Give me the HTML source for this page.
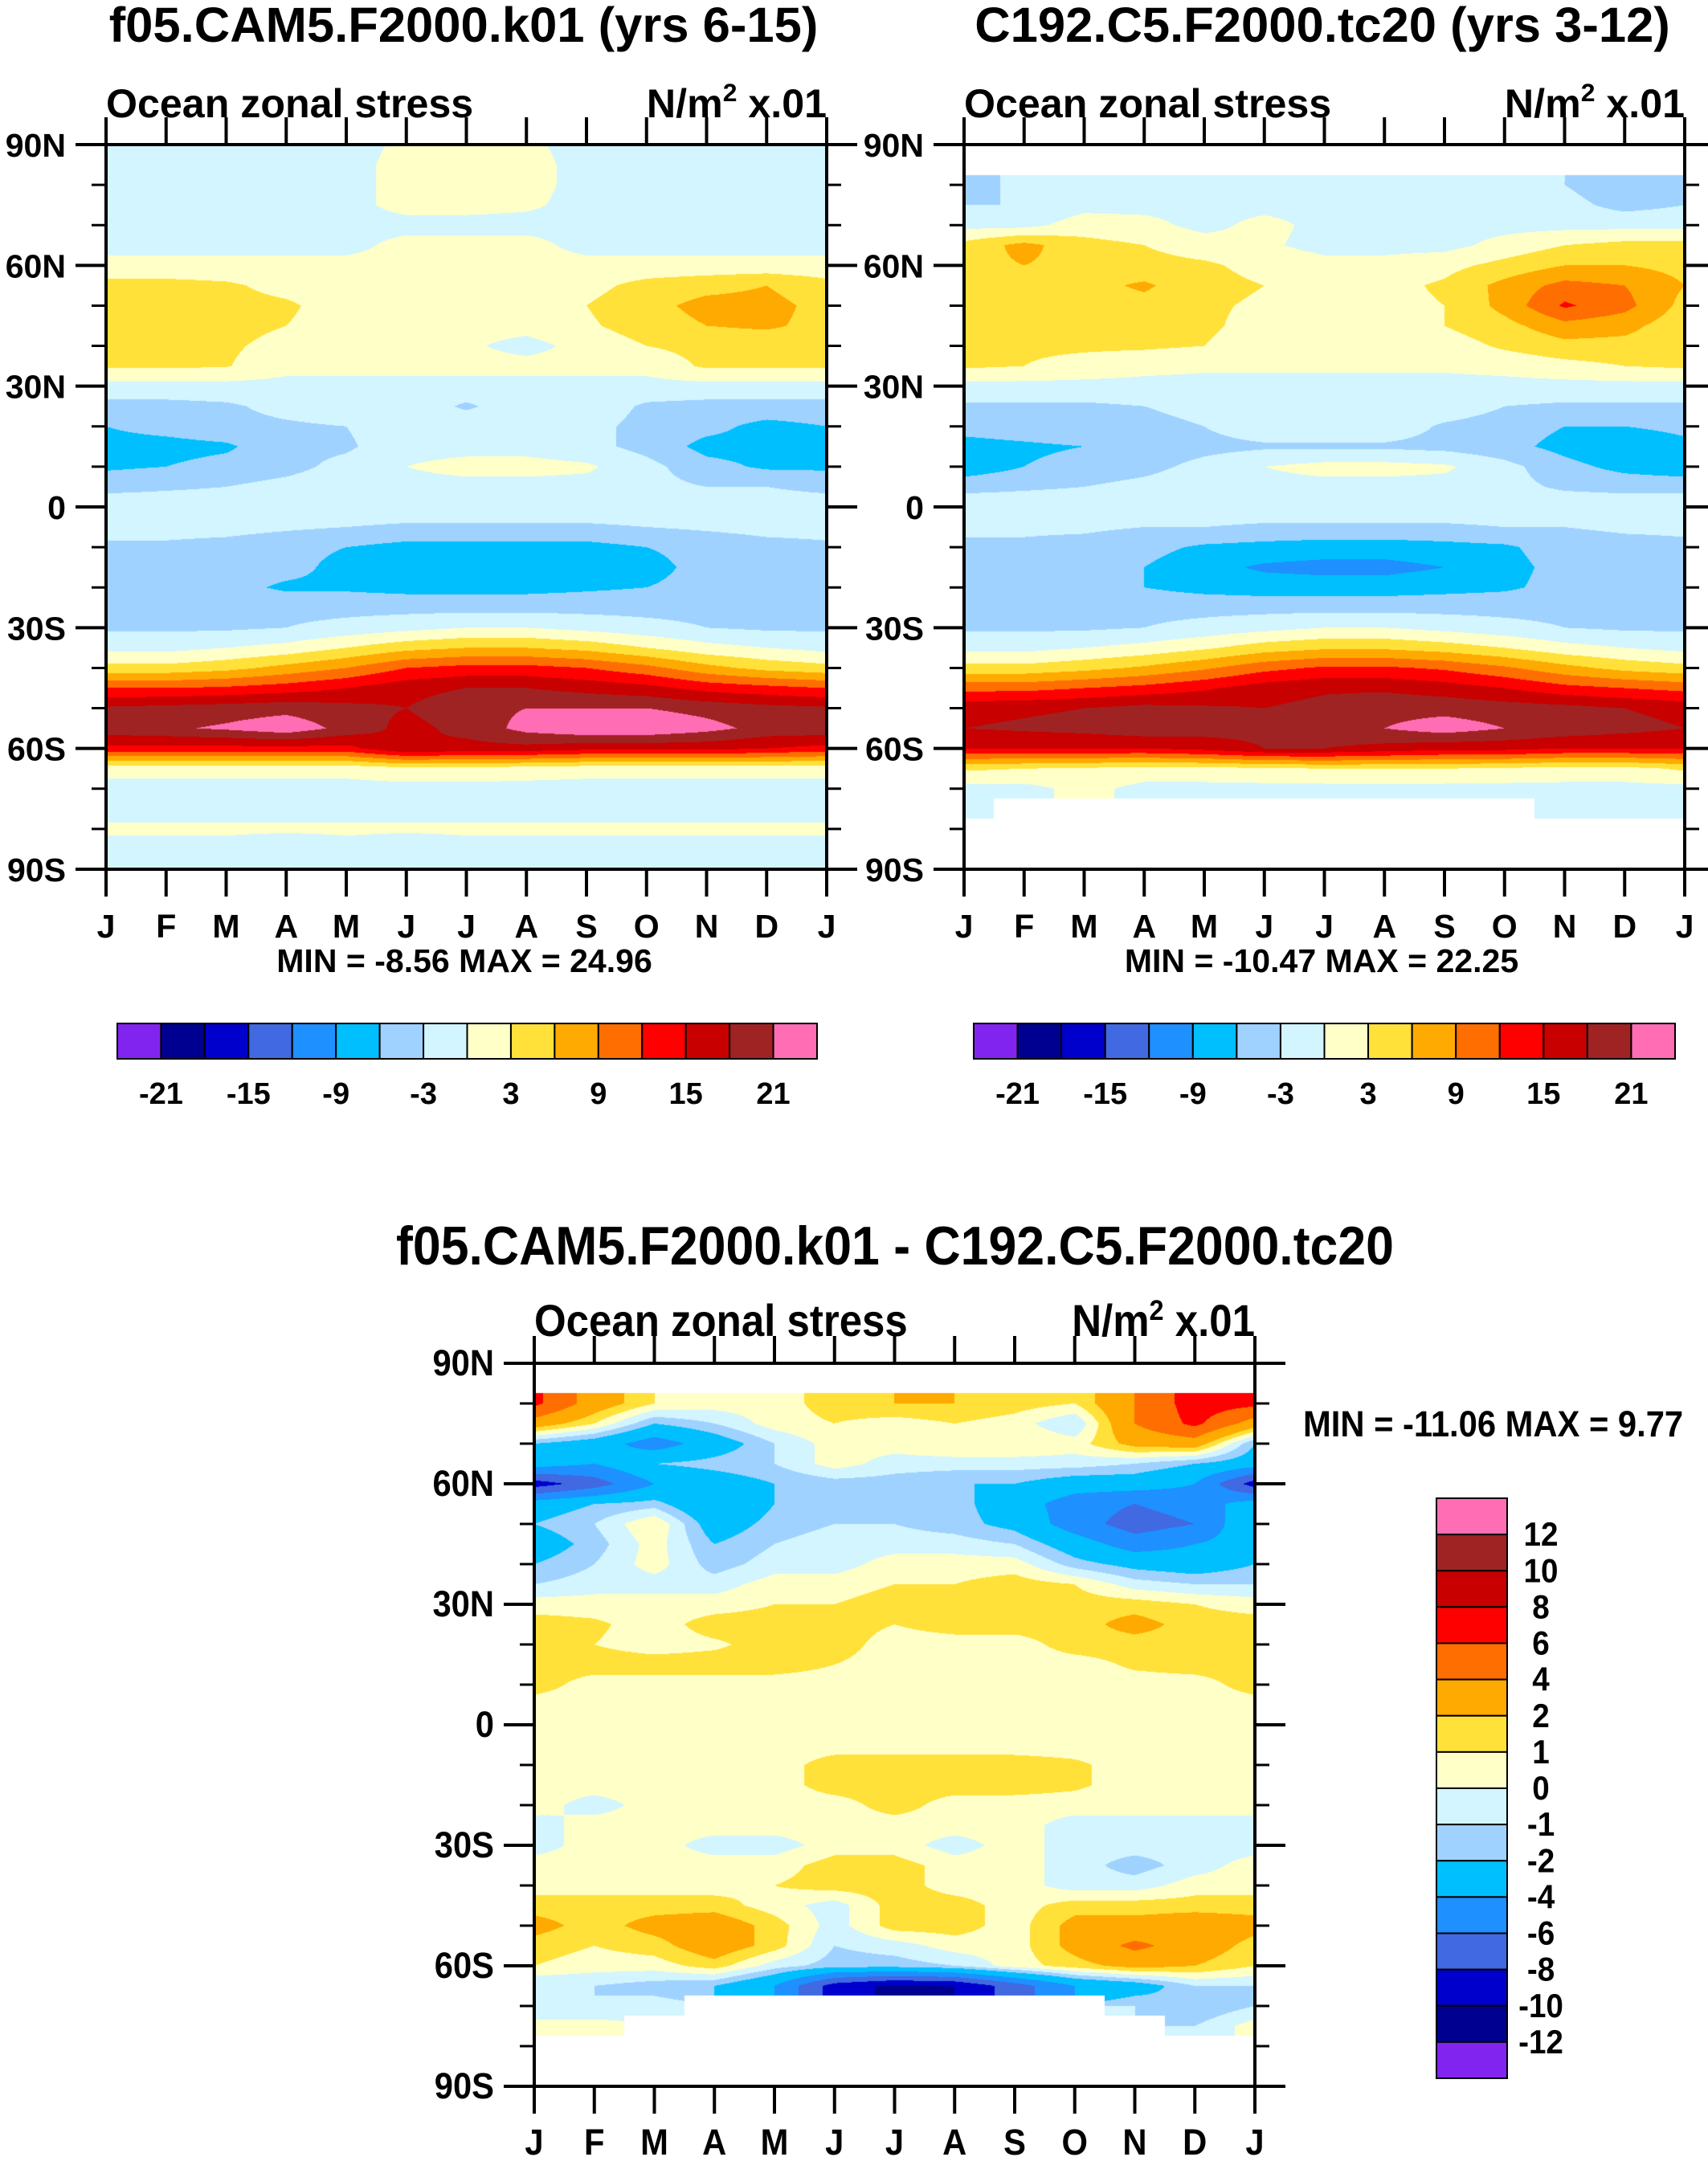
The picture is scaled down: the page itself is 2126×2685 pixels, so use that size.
<!DOCTYPE html>
<html><head><meta charset="utf-8"><style>
html,body{margin:0;padding:0;background:#fff;}
#wrap{position:relative;width:2126px;height:2685px;overflow:hidden;background:#fff;}
canvas{position:absolute;}
svg{position:absolute;left:0;top:0;}
text{font-family:"Liberation Sans",sans-serif;font-weight:bold;fill:#000;}
</style></head><body>
<div id="wrap">
<canvas id="c1" style="left:132px;top:180px" width="897" height="902"></canvas>
<canvas id="c2" style="left:1200px;top:180px" width="897" height="902"></canvas>
<canvas id="c3" style="left:665px;top:1697px" width="897" height="900"></canvas>
<svg id="svg" width="2126" height="2685"></svg>
</div>
<script>
// ---- data (units N/m2 x .01), rows 90N..90S step 5, cols Jan..Dec
const months = ["J","F","M","A","M","J","J","A","S","O","N","D","J"];
const latLabels = ["90N","60N","30N","0","30S","60S","90S"];
const levels1 = [-21,-18,-15,-12,-9,-6,-3,0,3,6,9,12,15,18,21];
const levels3 = [-12,-10,-8,-6,-4,-2,-1,0,1,2,4,6,8,10,12];
const cbLabels1 = ["-21","-15","-9","-3","3","9","15","21"];
const cbLabels3 = ["-12","-10","-8","-6","-4","-2","-1","0","1","2","4","6","8","10","12"];
const colors = ["#8224f0","#000090","#0000cd","#4169e1","#1e90ff","#00bfff","#a0d2ff","#d2f5ff","#ffffc8","#ffe13a","#ffaa00","#ff6e00","#ff0000","#c80000","#a02323","#ff6eb4"];
const N = NaN;
const data1 = [
[-1,-1,-1,-1,-1,0.5,0.5,0.5,-1,-1,-1,-1],
[-1,-1,-1,-1,-1,1,1,1,-1,-1,-1,-1],
[-1,-1,-1,-1,-1,1,1,1,-1,-1,-1,-1],
[-1,-1,-1,-1,-1,1,1,0.5,-1,-1,-1,-1],
[-1,-1,-1,-1,-1,-1,-1,-1,-1,-1,-1,-1],
[-1,-1,-1,-1,-1,1,1,1,-1,-1,-1,-1],
[1,1,1,1,1,1,1,1,1,1,1,1],
[4,4,3.5,2,1,1,1,1,2,4,5,6],
[5,4.5,4,3.5,1.5,1,1,1,3,5,7,7],
[5,4.5,4,3,1.5,1,1,1,2.5,4.5,6,6.5],
[4,4,3.5,2,1,1,0.5,-1,1,3,4,4],
[3.5,3.5,3.2,1,1,1,1,1,1,1,3.5,3.5],
[-1,-1,-1,-1,-1,-1,-1,-1,-1,-1,-1,-1],
[-4,-4,-3.5,-2,-1,-1,-3.5,-1,-1,-3.5,-4,-4],
[-6,-5,-4,-3.5,-3,-1,-1,-1,-2,-4,-5,-7],
[-7,-7,-6.5,-4,-3.5,-1,-1,-1,-2,-4,-7,-7],
[-6.5,-6,-5,-4,-2,0,1,1,0.5,-2,-5,-6.5],
[-4,-3.5,-3,-2,-1,-1,-1,-1,-1,-2,-3,-3],
[-1,-1,-1,-1,-1,-1,-1,-1,-1,-1,-1,-1],
[-2,-2,-2,-2.5,-3,-3.5,-3.5,-3.5,-3.5,-3,-2.5,-2],
[-3.5,-3.5,-4,-5,-6,-7,-7,-7,-7,-6,-5,-4],
[-4,-4,-4.5,-5,-7,-7.5,-7.5,-7.5,-7.5,-7,-5,-4],
[-4.5,-4.5,-5,-6.5,-6.5,-7,-7,-7,-6.5,-6,-5,-4.5],
[-4,-4,-4,-4,-4,-4,-4,-4,-4,-4,-4,-3.5],
[-3.5,-3.5,-3.5,-3,-2,-1,0,0,-1,-2,-3,-3.5],
[-1,-1,0,1,3,5,6,6,5,3,1,0],
[4,4,5,7,9,12,13,13,12,10,7,5],
[12,12,12.5,13.5,15,17,18,18,17,16,14,13],
[18.5,19,19.5,20,19,18,20,21,21,21,20,19],
[20,20.5,21.5,23,20,17,19,22,23.5,23.5,22,20],
[14,14,14,14,14,18,17,17,16,16,16,15],
[1,1,1,1,1,2,2,1.5,1,1,1,1],
[-1,-1,-1,-1,-1,-1,-1,-1,-1,-1,-1,-1],
[-1,-1,-1,-1,-1,-1,-1,-1,-1,-1,-1,-1],
[0.5,0.5,0.5,0.5,0.5,0.5,0.5,0.5,0.5,0.5,0.5,0.5],
[-1,-1,-1,-2,-1,-2,-1,-1,-1,-1,-1,-1],
[-1,-1,-1,-1,-1,-1,-1,-1,-1,-1,-1,-1]
];
const data2 = [
[N,N,N,N,N,N,N,N,N,N,N,N],
[N,N,N,N,N,N,N,N,N,N,N,N],
[-4.5,-2,-1,-1,-1,-1,-1,-1,-1,-1,-3,-5],
[-3,-3,-1,-1,-1,-1,-1,-1,-1,-1,-2,-4],
[-1,-1,1.5,1,-1,1,-1,-1,-1,-1,-1,-1],
[4,7,4,3,1.5,0.5,-1,-1,-1,1,3,4],
[5,6,5,4,3.5,2,1,1,2,4,6,6],
[6,5,5,6.5,4,3,2,2,3.5,7,10,9],
[5,4.5,4.5,5,3.5,2.5,2,2,3,7,12.5,10],
[4,4,4,4,3.5,2,1.5,1.5,3,5,8,7],
[4,3.5,3.5,3.5,3,1.5,1,0.5,1.5,3.5,5,5],
[3.5,3,2,1,0.5,0.5,0.5,0.5,0.5,1,2,3],
[-1,-1,-1,-1,-1,-1,-1,-1,-1,-1,-1,-1],
[-3.5,-3.5,-3.5,-3,-2,-1,-1,-1,-1,-3,-3.5,-3.5],
[-5,-4.5,-4,-4,-3,-1,-1,-1,-3.5,-4.5,-6,-6],
[-7,-6.5,-6,-5,-4,-3.5,-3.5,-3.5,-4,-5,-7,-9],
[-8,-6,-5,-4,-2,0,1,1,0.5,-2,-5,-7],
[-4,-3.5,-3,-2,-1,-1,-1,-1,-1,-2,-3.5,-4],
[-1,-1,-1,-1,-1,-1,-1,-1,-1,-1,-1,-1],
[-2.5,-2.5,-2.5,-3,-3,-3.5,-3.5,-3.5,-3.5,-3,-3,-2.5],
[-3.5,-3.5,-4,-5,-6.5,-7,-7.5,-7.5,-7,-6.5,-4.5,-4],
[-4,-4,-4.5,-6,-8,-9.5,-10,-10,-9,-7,-5,-4],
[-4.5,-4.5,-5,-6,-7,-7.5,-7.5,-7.5,-7,-6.5,-5,-4.5],
[-4,-4,-4,-4,-4,-4,-4,-4,-4,-4,-4,-4],
[-3.5,-3.5,-3.5,-3,-2,-1,0,0,-1,-2,-3,-3.5],
[-1,-1,0,1,2.5,4.5,5.5,5.5,4.5,3,1,0],
[4,4,5,6.5,8.5,11,12.5,12.5,11.5,9.5,7,5],
[11,11,12,13,14.5,16.5,17.5,17.5,16.5,15,13,12],
[17,17.5,18,19,18.5,18,19,20,20,19.5,19,18],
[18,18.5,19,20,19.5,19,20,21,22.5,21,20,19],
[15,15,15,15,16,18,18,17,16,16,15,15],
[3.5,3,2.5,2,2,2.5,3,3,3,2.5,2,2],
[-1,-1,1,-1,-1,-1,-1,-1,-1,-1,-1,-1],
[-1,N,N,N,N,N,N,N,N,N,-1,-1],
[N,N,N,N,N,N,N,N,N,N,N,N],
[N,N,N,N,N,N,N,N,N,N,N,N],
[N,N,N,N,N,N,N,N,N,N,N,N]
];
const data3 = [
[N,N,N,N,N,N,N,N,N,N,N,N],
[N,N,N,N,N,N,N,N,N,N,N,N],
[6.5,3,1,0.5,0.5,1.5,2,2,1.5,1,4,7],
[3,1,-2,-1,0.5,1,0.5,1,0.5,-1,4,6.5],
[-2,-3,-5,-3,-1,0.5,0.5,1,1,0.5,2.5,3],
[-3,-4,-2,-1.5,-1,0.5,-0.5,-0.5,-0.5,-0.5,-1,-2],
[-9,-7,-4,-3,-2,-1.5,-1.5,-2,-2,-3,-3,-4],
[-3,-2,-1.5,-4,-2,-1.5,-1.5,-1.5,-3,-5,-6,-5],
[-2,-1,1,-3,-1.5,-1,-1,-1.5,-2.5,-5,-7,-6],
[-3,-1.5,0.5,-2,-1,-0.5,-0.5,-0.5,-1,-3,-5,-4],
[-2,-1,0.5,-1.5,-0.5,-0.5,0.5,0.5,0.5,-1.5,-2.5,-3],
[-1,-0.5,-0.5,-0.5,0.5,0.5,1,1,1.5,1,-0.5,-1],
[0.5,0.5,0.5,0.5,1,1,1.5,1.5,1.5,1.5,1.5,1],
[1.5,1.2,0.5,1.5,1.5,1.5,1,1.5,1.5,1.5,2.5,1.5],
[1,1,0.5,0.8,1.5,1.5,0.5,0.5,0.5,1.5,1.5,1.5],
[1.5,1.5,1.5,1.5,1.5,1,0.5,0.5,0.5,0.5,1.2,1.5],
[1.5,0.5,0.5,0.5,0.5,0.5,0.5,0.5,0.5,0.5,0.5,0.5],
[0.5,0.5,0.5,0.5,0.5,0.5,0.5,0.5,0.5,0.5,0.5,0.5],
[0.5,0.5,0.5,0.5,0.5,0.5,0.5,0.5,0.5,0.5,0.5,0.5],
[0.5,0.5,0.5,0.5,0.5,0.5,0.5,0.5,0.5,0.5,0.5,0.5],
[0.5,0.5,0.5,0.5,0.5,1.5,1.5,1.5,1.5,1.2,0.5,0.5],
[0.5,0.5,0.5,0.5,0.5,1.5,1.5,1.5,1.5,1.2,0.5,0.5],
[0.5,-0.5,0.5,0.5,0.5,0.5,1.5,0.5,0.5,0.5,0.5,0.5],
[-0.5,0.5,0.5,0.5,0.5,0.5,0.5,0.5,0.5,-0.5,-0.5,-0.5],
[-0.5,0.5,0.5,-0.5,-0.5,0.5,0.5,-0.5,0.5,-0.5,-0.5,-0.5],
[0.5,0.5,0.5,0.5,0.5,1.5,1.5,0.5,0.5,-0.5,-1.5,-0.5],
[0.5,0.5,0.5,0.5,1,1.5,1.5,0.5,0.5,-0.5,-0.5,0.5],
[1.5,1.5,1.5,1.5,0.5,-0.5,1.5,1.5,0.5,1.5,1.5,1.5],
[2.5,1.5,2.5,3,1.5,-0.5,1.5,1.5,0.5,2.5,2.5,3],
[1.5,1,1.5,3,1.5,-1,-0.5,0.5,0.5,2.5,4.5,3],
[1,0.5,0.5,1.5,-0.5,-1.5,-1.5,-1,0.5,1.5,2.5,2],
[-1,-1,-1.5,-2,-4,-9,-10.5,-10,-7,-4,-3,-1],
[-1,-1,-0.5,N,N,N,N,N,N,N,-1,-2],
[0.5,0.5,N,N,N,N,N,N,N,N,N,-1],
[N,N,N,N,N,N,N,N,N,N,N,N],
[N,N,N,N,N,N,N,N,N,N,N,N],
[N,N,N,N,N,N,N,N,N,N,N,N]
];

function colorIndex(v, lv){ let i=0; while(i<lv.length && v>=lv[i]) i++; return i; }
function hex(c){return [parseInt(c.substr(1,2),16),parseInt(c.substr(3,2),16),parseInt(c.substr(5,2),16)];}
const rgb = colors.map(hex);
function sample(d, fx, fy){
  const nr=d.length;
  let x0=Math.floor(fx), y0=Math.floor(fy);
  if(y0>=nr-1) y0=nr-2;
  const tx=fx-x0, ty=fy-y0;
  const xa=x0%12, xb=(x0+1)%12;
  const c=[[d[y0][xa],(1-tx)*(1-ty)],[d[y0][xb],tx*(1-ty)],[d[y0+1][xa],(1-tx)*ty],[d[y0+1][xb],tx*ty]];
  const near=d[Math.round(fy)>=nr?nr-1:Math.round(fy)][Math.round(fx)%12];
  if(isNaN(near)) return NaN;
  let s=0,w=0;
  for(const [v,ww] of c){ if(!isNaN(v)){s+=v*ww;w+=ww;} }
  return w>0? s/w : NaN;
}
function drawField(id, d, lv){
  const cv=document.getElementById(id), ctx=cv.getContext('2d');
  const W=cv.width,H=cv.height, img=ctx.createImageData(W,H);
  for(let py=0;py<H;py++){
    const fy=(py+0.5)/H*36;
    for(let px=0;px<W;px++){
      const fx=(px+0.5)/W*12;
      const v=sample(d,fx,fy);
      const k=(py*W+px)*4;
      let c=[255,255,255];
      if(!isNaN(v)) c=rgb[colorIndex(v,lv)];
      img.data[k]=c[0];img.data[k+1]=c[1];img.data[k+2]=c[2];img.data[k+3]=255;
    }
  }
  ctx.putImageData(img,0,0);
}
drawField('c1',data1,levels1);
drawField('c2',data2,levels1);
drawField('c3',data3,levels3);

const svg=document.getElementById('svg');
const NS="http://www.w3.org/2000/svg";
function el(tag, attrs, parent){
  const e=document.createElementNS(NS,tag);
  for(const k in attrs) e.setAttribute(k,attrs[k]);
  (parent||svg).appendChild(e); return e;
}
function txt(s,x,y,size,anchor,sx,parent){
  const t=el('text',{x:0,y:0,'font-size':size,'text-anchor':anchor||'start',transform:`translate(${x},${y}) scale(${sx||1},1)`},parent);
  t.textContent=s; return t;
}
function panel(L,T,W,H,cfg){
  const g=el('g',{});
  
  
  const sx=cfg.sx, f=cfg.fs;
  const fr=el('rect',{x:L,y:T,width:W,height:H,fill:'none',stroke:'#000','stroke-width':4},g);
  
  
  const yAt=lat=>T+(90-lat)/180*H;
  for(let lat=-80;lat<=80;lat+=10){
    if(lat%30===0) continue;
    el('line',{x1:L-18,x2:L,y1:yAt(lat),y2:yAt(lat),stroke:'#000','stroke-width':3},g);
    el('line',{x1:L+W,x2:L+W+18,y1:yAt(lat),y2:yAt(lat),stroke:'#000','stroke-width':3},g);
  }
  latLabels.forEach((lab,i)=>{
    const y=yAt(90-i*30);
    el('line',{x1:L-38,x2:L,y1:y,y2:y,stroke:'#000','stroke-width':4},g);
    el('line',{x1:L+W,x2:L+W+38,y1:y,y2:y,stroke:'#000','stroke-width':4},g);
    const t=txt(lab,L-50,y+15,36*f,'end',sx,g);
    
    
  });
  months.forEach((m,i)=>{
    const x=L+i*W/12;
    el('line',{x1:x,x2:x,y1:T+H,y2:T+H+34,stroke:'#000','stroke-width':4},g);
    el('line',{x1:x,x2:x,y1:T-34,y2:T,stroke:'#000','stroke-width':4},g);
    const t=txt(m,x,cfg.monY,36*f,'middle',sx,g);
    
    
  });
  const t1=txt(cfg.title,cfg.titleX,cfg.titleY,54*f,'middle',sx,g);
  
  
  const t2=txt('Ocean zonal stress',L,T-34,44*f,'start',sx,g);
  
  
  const u=el('text',{x:0,y:0,'font-size':44*f,'text-anchor':'end',transform:`translate(${L+W},${T-34}) scale(${sx},1)`},g);
  u.innerHTML='N/m<tspan font-size="'+(28*f)+'" dy="-20">2</tspan><tspan dy="20"> x.01</tspan>';
  
  
  const mm=txt(cfg.minmax,cfg.mmX,cfg.mmY,36*f,cfg.mmAnchor,sx,g);
  
  
}
panel(132,180,897,902,{name:'panel-f05',sx:1,fs:1.14,title:'f05.CAM5.F2000.k01 (yrs 6-15)',titleX:577,titleY:52,monY:1167,minmax:'MIN =  -8.56 MAX =  24.96',mmX:578,mmY:1210,mmAnchor:'middle'});
panel(1200,180,897,902,{name:'panel-c192',sx:1,fs:1.14,title:'C192.C5.F2000.tc20 (yrs 3-12)',titleX:1646,titleY:52,monY:1167,minmax:'MIN = -10.47 MAX =  22.25',mmX:1645,mmY:1210,mmAnchor:'middle'});
panel(665,1697,897,900,{name:'panel-difference',sx:0.92,fs:1.26,title:'f05.CAM5.F2000.k01 - C192.C5.F2000.tc20',titleX:1114,titleY:1574,monY:2682,minmax:'MIN = -11.06 MAX =   9.77',mmX:1622,mmY:1788,mmAnchor:'start'});

function hbar(L,T,W,H,name){
  const g=el('g',{});
  
  
  const bw=W/colors.length;
  colors.forEach((c,i)=>{
    const r=el('rect',{x:L+i*bw,y:T,width:bw,height:H,fill:c,stroke:'#000','stroke-width':2},g);
    
    
  });
  cbLabels1.forEach((s,j)=>{
    const t=txt(s,L+(2*j+1)*bw,T+H+56,38,'middle',1,g);
    
    
  });
}
hbar(146,1274,871,44,'colorbar-panel1');
hbar(1212,1274,873,44,'colorbar-panel2');
(function(){
  const L=1788,T=1865,W=88,H=722;
  const g=el('g',{});
  
  
  const bh=H/colors.length;
  for(let i=0;i<colors.length;i++){
    const r=el('rect',{x:L,y:T+i*bh,width:W,height:bh,fill:colors[colors.length-1-i],stroke:'#000','stroke-width':2},g);
    
    
  }
  const rev=cbLabels3.slice().reverse();
  rev.forEach((s,i)=>{
    const t=txt(s,1918,T+(i+1)*bh+14,42,'middle',0.92,g);
    
    
  });
})();
</script>
</body></html>
